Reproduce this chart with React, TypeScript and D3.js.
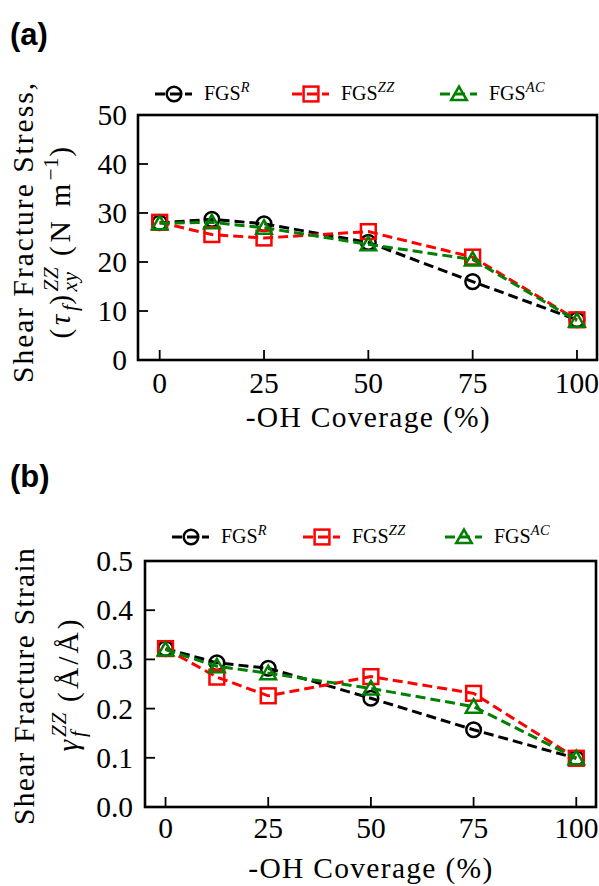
import React, { useLayoutEffect, useRef } from 'react';
import * as d3 from 'd3';

const coverage = [0, 12.5, 25, 50, 75, 100];
const xTickValues = [0, 25, 50, 75, 100];

const stressR = [28.0, 28.7, 27.8, 24.0, 16.0, 8.2];
const stressZZ = [28.1, 25.6, 24.9, 26.2, 21.0, 8.2];
const stressAC = [27.9, 28.1, 27.0, 23.6, 20.5, 8.0];
const stressTicks = [0, 10, 20, 30, 40, 50];

const strainR = [0.322, 0.293, 0.282, 0.221, 0.157, 0.099];
const strainZZ = [0.322, 0.264, 0.226, 0.265, 0.231, 0.099];
const strainAC = [0.320, 0.286, 0.272, 0.241, 0.204, 0.099];
const strainTicks = [0, 0.1, 0.2, 0.3, 0.4, 0.5];

const seriesNames = ['R', 'ZZ', 'AC'];
const seriesColors = ['#000000', '#ff0000', '#008000'];
const seriesShapes = ['circle', 'square', 'triangle'];

const SERIF = { fontFamily: 'Liberation Serif' };
const FS = 29.5;

type Part = { t: string; it?: boolean; s?: 'sup' | 'sub'; back?: boolean };

function MathText({ parts, fontSize, ls = 0, ...rest }: any) {
  const ref = useRef<SVGTextElement>(null);
  useLayoutEffect(() => {
    const el = ref.current;
    if (!el) return;
    const spans = Array.from(el.querySelectorAll('tspan')) as SVGTSpanElement[];
    (parts as Part[]).forEach((p, i) => {
      if (p.back && i > 0) {
        const wPrev = spans[i - 1].getComputedTextLength();
        const wThis = spans[i].getComputedTextLength();
        spans[i].setAttribute('dx', String(-wPrev));
        if (spans[i + 1]) spans[i + 1].setAttribute('dx', String(Math.max(0, wPrev - wThis)));
      }
    });
  });
  let cur = 0;
  const spans = (parts as Part[]).map((p, i) => {
    const target = p.s === 'sup' ? -0.42 * fontSize : p.s === 'sub' ? 0.25 * fontSize : 0;
    const dy = target - cur;
    cur = target;
    return (
      <tspan
        key={i}
        dy={dy !== 0 ? dy : undefined}
        style={{
          fontStyle: p.it ? 'italic' : 'normal',
          fontSize: (p.s ? fontSize * 0.72 : fontSize) + 'px',
          letterSpacing: (p.s ? 0.5 : ls) + 'px',
        }}
      >
        {p.t}
      </tspan>
    );
  });
  return (
    <text ref={ref} style={{ ...SERIF, fontSize: fontSize + 'px' }} fill="#000" {...rest}>
      {spans}
    </text>
  );
}

function Marker({ shape, x, y, color }: any) {
  const sw = 2.5;
  if (shape === 'circle') {
    return <circle cx={x} cy={y} r={7.3} fill="none" stroke={color} strokeWidth={sw} />;
  }
  if (shape === 'square') {
    const h = 7.4;
    return <rect x={x - h} y={y - h} width={2 * h} height={2 * h} fill="none" stroke={color} strokeWidth={sw} />;
  }
  const r = 9;
  const pts = [0, 1, 2].map((k) => {
    const a = -Math.PI / 2 + (k * 2 * Math.PI) / 3;
    return `${x + r * Math.cos(a)},${y + r * Math.sin(a) + 1.5}`;
  });
  return <polygon points={pts.join(' ')} fill="none" stroke={color} strokeWidth={sw} />;
}

const panels = [
  {
    tag: '(a)',
    tagY: 45,
    xRange: [138, 597],
    xDomain: [-5.2, 104.8],
    yRange: [360, 115],
    yDomain: [0, 50],
    yTicks: stressTicks,
    yFmt: (d: number) => String(d),
    yLabelRight: 127,
    series: [stressR, stressZZ, stressAC],
    legendY: 94,
    legendX: [155, 292, 440],
    xTickBaseline: 393,
    xLabelBaseline: 427,
    yl1: { x: 33, y: 232, ls: 2.0 },
    yl2: { x: 70, y: 241, ls: 3.5 },
    line1: 'Shear Fracture Stress,',
    line2: [
      { t: '(' },
      { t: 'τ', it: true },
      { t: 'f', it: true, s: 'sub' },
      { t: ')' },
      { t: 'ZZ', it: true, s: 'sup' },
      { t: 'xy', it: true, s: 'sub', back: true },
      { t: '  (N m' },
      { t: '−1', s: 'sup' },
      { t: ')' },
    ] as Part[],
  },
  {
    tag: '(b)',
    tagY: 487,
    xRange: [145, 596],
    xDomain: [-5, 104.8],
    yRange: [807, 561],
    yDomain: [0, 0.5],
    yTicks: strainTicks,
    yFmt: d3.format('.1f'),
    yLabelRight: 133,
    series: [strainR, strainZZ, strainAC],
    legendY: 537,
    legendX: [172, 303, 445],
    xTickBaseline: 838,
    xLabelBaseline: 878,
    yl1: { x: 34, y: 686, ls: 1.3 },
    yl2: { x: 78, y: 684, ls: 3.0 },
    line1: 'Shear Fracture Strain',
    line2: [
      { t: 'γ', it: true },
      { t: 'ZZ', it: true, s: 'sup' },
      { t: 'f', it: true, s: 'sub', back: true },
      { t: '  (Å/Å)' },
    ] as Part[],
  },
];

function Panel({ p }: any) {
  const x = d3.scaleLinear().domain(p.xDomain).range(p.xRange);
  const y = d3.scaleLinear().domain(p.yDomain).range(p.yRange);
  const [x0, x1] = p.xRange;
  const [yb, yt] = p.yRange;
  const line = d3
    .line<[number, number]>()
    .x((d) => x(d[0]))
    .y((d) => y(d[1]));
  const txt = { ...SERIF, fontSize: FS + 'px' };

  return (
    <g>
      <text x={10} y={p.tagY} style={{ fontFamily: 'Liberation Sans', fontWeight: 'bold', fontSize: '31px' }}>
        {p.tag}
      </text>

      {seriesNames.map((name, i) => {
        const s = p.legendX[i];
        return (
          <g key={name}>
            <line
              x1={s}
              x2={s + 37}
              y1={p.legendY}
              y2={p.legendY}
              stroke={seriesColors[i]}
              strokeWidth={3}
              strokeDasharray="10,5"
            />
            <Marker shape={seriesShapes[i]} x={s + 19} y={p.legendY} color={seriesColors[i]} />
            <MathText
              x={s + 49}
              y={p.legendY + 6}
              fontSize={20}
              parts={[{ t: 'FGS' }, { t: name, it: true, s: 'sup' }]}
            />
          </g>
        );
      })}

      {p.series.map((vals: number[], i: number) => {
        const pts = coverage.map((c, k) => [c, vals[k]] as [number, number]);
        return (
          <g key={i}>
            <path
              d={line(pts) || ''}
              fill="none"
              stroke={seriesColors[i]}
              strokeWidth={3}
              strokeDasharray="10,5"
            />
            {pts.map((d, k) => (
              <Marker key={k} shape={seriesShapes[i]} x={x(d[0])} y={y(d[1])} color={seriesColors[i]} />
            ))}
          </g>
        );
      })}

      {p.yTicks.map((t: number) => (
        <g key={'y' + t}>
          <line x1={x0} x2={x0 + 10} y1={y(t)} y2={y(t)} stroke="#000" strokeWidth={1.8} />
          <text x={p.yLabelRight} y={y(t) + 10} textAnchor="end" style={txt}>
            {p.yFmt(t)}
          </text>
        </g>
      ))}
      {xTickValues.map((t) => (
        <g key={'x' + t}>
          <line x1={x(t)} x2={x(t)} y1={yb} y2={yb - 10} stroke="#000" strokeWidth={1.8} />
          <text x={x(t)} y={p.xTickBaseline} textAnchor="middle" style={txt}>
            {t}
          </text>
        </g>
      ))}

      <rect x={x0} y={yt} width={x1 - x0} height={yb - yt} fill="none" stroke="#000" strokeWidth={2.6} />

      <text
        x={(x(0) + x(100)) / 2}
        y={p.xLabelBaseline}
        textAnchor="middle"
        style={{ ...txt, letterSpacing: '1.3px' }}
      >
        -OH Coverage (%)
      </text>

      <text
        transform={`translate(${p.yl1.x},${p.yl1.y}) rotate(-90)`}
        textAnchor="middle"
        style={{ ...txt, letterSpacing: p.yl1.ls + 'px' }}
      >
        {p.line1}
      </text>
      <MathText
        transform={`translate(${p.yl2.x},${p.yl2.y}) rotate(-90)`}
        textAnchor="middle"
        fontSize={FS}
        ls={p.yl2.ls}
        parts={p.line2}
      />
    </g>
  );
}

export default function App() {
  return (
    <svg
      width={599}
      height={886}
      style={{ position: 'absolute', left: 0, top: 0, background: '#fff', fontFamily: 'Liberation Serif' }}
    >
      <rect width={599} height={886} fill="#fff" />
      {panels.map((p, i) => (
        <Panel key={i} p={p} />
      ))}
    </svg>
  );
}
